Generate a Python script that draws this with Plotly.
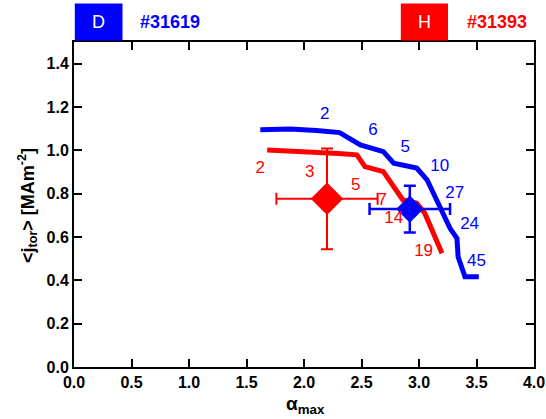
import plotly.graph_objects as go

# Blue (D, #31619) profile
blue_x = [1.62, 1.88, 2.11, 2.31, 2.49, 2.69, 2.78, 2.98, 3.07, 3.18, 3.27, 3.33, 3.34, 3.40, 3.52]
blue_y = [1.095, 1.098, 1.092, 1.082, 1.025, 0.994, 0.941, 0.918, 0.864, 0.740, 0.640, 0.594, 0.509, 0.416, 0.416]
# Red (H, #31393) profile
red_x = [1.68, 2.08, 2.30, 2.46, 2.53, 2.69, 2.78, 2.86, 2.98, 3.05, 3.20]
red_y = [1.002, 0.994, 0.985, 0.979, 0.925, 0.902, 0.833, 0.771, 0.756, 0.710, 0.525]

# Mean points with error bars
red_mean = (2.20, 0.776)
red_err = (0.44, 0.232)
blue_mean = (2.92, 0.729)
blue_err = (0.35, 0.108)

# Number labels
blue_lab_x = [2.18, 2.60, 2.88, 3.18, 3.31, 3.44, 3.50]
blue_lab_y = [1.164, 1.092, 1.010, 0.925, 0.799, 0.655, 0.486]
blue_labels = ["2", "6", "5", "10", "27", "24", "45"]
red_lab_x = [1.62, 2.05, 2.45, 2.68, 2.78, 3.04]
red_lab_y = [0.913, 0.895, 0.836, 0.768, 0.682, 0.532]
red_labels = ["2", "3", "5", "7", "14", "19"]

BLUE = "#0000FF"
RED = "#FF0000"
FONT = "Liberation Sans, Arial, sans-serif"

# plot area in pixels
L, R, T, B = 74, 534, 42, 367
W, H = R - L, B - T


def px(xp):
    return (xp - L) / W


def py(yp):
    return (B - yp) / H


fig = go.Figure()
fig.add_trace(go.Scatter(x=red_x, y=red_y, mode="lines",
                         line=dict(color=RED, width=5), hoverinfo="skip"))
fig.add_trace(go.Scatter(x=blue_x, y=blue_y, mode="lines",
                         line=dict(color=BLUE, width=5), hoverinfo="skip"))
fig.add_trace(go.Scatter(x=[red_mean[0]], y=[red_mean[1]], mode="markers",
                         marker=dict(symbol="diamond", size=25, color=RED),
                         error_x=dict(type="constant", value=red_err[0], color=RED, thickness=2, width=6),
                         error_y=dict(type="constant", value=red_err[1], color=RED, thickness=2, width=6)))
fig.add_trace(go.Scatter(x=[blue_mean[0]], y=[blue_mean[1]], mode="markers",
                         marker=dict(symbol="diamond", size=21, color=BLUE),
                         error_x=dict(type="constant", value=blue_err[0], color=BLUE, thickness=2.5, width=6),
                         error_y=dict(type="constant", value=blue_err[1], color=BLUE, thickness=2.5, width=6)))
fig.add_trace(go.Scatter(x=blue_lab_x, y=blue_lab_y, mode="text", text=blue_labels,
                         textfont=dict(color=BLUE, size=17, family=FONT)))
fig.add_trace(go.Scatter(x=red_lab_x, y=red_lab_y, mode="text", text=red_labels,
                         textfont=dict(color=RED, size=17, family=FONT)))

axis_common = dict(showline=True, linewidth=2, linecolor="black", mirror="ticks",
                   ticks="inside", ticklen=8, tickwidth=1.5, tickcolor="black",
                   showgrid=False, zeroline=False, automargin=False,
                   tickfont=dict(family=FONT, size=16, color="black", weight="bold"))

fig.update_layout(
    width=546, height=419,
    margin=dict(l=L, r=546 - R, t=T, b=419 - B),
    paper_bgcolor="white", plot_bgcolor="white",
    showlegend=False,
    xaxis=dict(range=[0, 4.0], dtick=0.5, tickformat=".1f", **axis_common),
    yaxis=dict(range=[0, 1.5], dtick=0.2, tickformat=".1f", **axis_common),
    shapes=[
        dict(type="rect", xref="paper", yref="paper", x0=px(74.8), x1=px(122.5),
             y0=py(40.4), y1=py(3.5), fillcolor=BLUE, line=dict(width=0)),
        dict(type="rect", xref="paper", yref="paper", x0=px(400.8), x1=px(448),
             y0=py(40.4), y1=py(3.5), fillcolor=RED, line=dict(width=0)),
    ],
    annotations=[
        dict(text="D", xref="paper", yref="paper", x=px(98.6), y=py(22),
             showarrow=False, font=dict(family=FONT, size=18, color="white"), xanchor="center", yanchor="middle"),
        dict(text="#31619", xref="paper", yref="paper", x=px(138), y=py(22),
             showarrow=False, font=dict(family=FONT, size=18, color=BLUE, weight="bold"),
             xanchor="left", yanchor="middle"),
        dict(text="H", xref="paper", yref="paper", x=px(424.4), y=py(22),
             showarrow=False, font=dict(family=FONT, size=18, color="white"), xanchor="center", yanchor="middle"),
        dict(text="#31393", xref="paper", yref="paper", x=px(465), y=py(22),
             showarrow=False, font=dict(family=FONT, size=18, color=RED, weight="bold"),
             xanchor="left", yanchor="middle"),
        dict(text="α<sub>max</sub>", xref="paper", yref="paper", x=px(305), y=py(405),
             showarrow=False, font=dict(family=FONT, size=19, color="black", weight="bold"),
             xanchor="center", yanchor="middle"),
        dict(text="&lt;j<sub>tor</sub>&gt; [MAm<sup>-2</sup>]", xref="paper", yref="paper",
             x=px(27), y=py(206), textangle=-90, showarrow=False,
             font=dict(family=FONT, size=18, color="black", weight="bold"),
             xanchor="center", yanchor="middle"),
    ],
)

fig.write_html("out.html", config={"displayModeBar": False},
               post_script="document.body.style.margin='0';document.body.style.overflow='hidden';")
